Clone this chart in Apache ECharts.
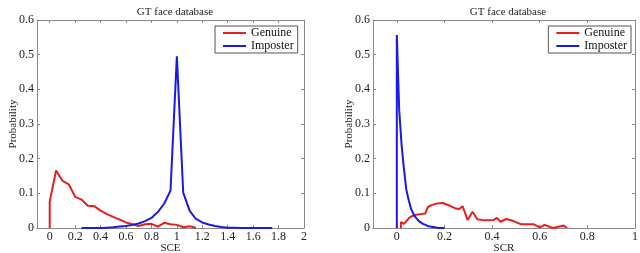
<!DOCTYPE html>
<html>
<head>
<meta charset="utf-8">
<script src="https://cdn.jsdelivr.net/npm/echarts@6/dist/echarts.min.js"></script>
<style>
  html, body { margin: 0; padding: 0; background: #fff; }
  #chart { width: 640px; height: 253px; }
</style>
</head>
<body>
<div id="chart"></div>
<script>
// left plot: SCE
const sceGenuineX = [0, 0, 0.05, 0.1, 0.15, 0.2, 0.25, 0.3, 0.35, 0.4, 0.45, 0.5, 0.55, 0.6, 0.65, 0.7, 0.75, 0.8, 0.85, 0.9, 0.95, 1.0, 1.05, 1.1, 1.15]
const sceGenuineY = [0, 0.076, 0.166, 0.136, 0.126, 0.09, 0.082, 0.064, 0.063, 0.05, 0.04, 0.032, 0.024, 0.016, 0.011, 0.006, 0.011, 0.012, 0.004, 0.015, 0.011, 0.009, 0.002, 0.005, 0.001]
const sceImposterX = [0.25, 0.3, 0.35, 0.4, 0.45, 0.5, 0.55, 0.6, 0.65, 0.7, 0.75, 0.8, 0.85, 0.9, 0.95, 1.0, 1.05, 1.1, 1.15, 1.2, 1.25, 1.3, 1.35, 1.4, 1.45, 1.5, 1.6, 1.7, 1.75]
const sceImposterY = [0, 0, 0, 0, 0.001, 0.002, 0.004, 0.006, 0.009, 0.013, 0.02, 0.029, 0.046, 0.07, 0.108, 0.495, 0.102, 0.05, 0.026, 0.016, 0.01, 0.006, 0.003, 0.001, 0.001, 0, 0, 0, 0]

// right plot: SCR
const scrGenuineX = [0.017, 0.017, 0.03, 0.04, 0.05, 0.06, 0.08, 0.1, 0.12, 0.13, 0.145, 0.17, 0.193, 0.22, 0.248, 0.262, 0.276, 0.297, 0.318, 0.338, 0.37, 0.407, 0.42, 0.435, 0.46, 0.49, 0.52, 0.574, 0.6, 0.62, 0.655, 0.7, 0.715]
const scrGenuineY = [0, 0.017, 0.012, 0.02, 0.028, 0.033, 0.038, 0.04, 0.042, 0.06, 0.066, 0.071, 0.072, 0.065, 0.056, 0.055, 0.063, 0.023, 0.047, 0.025, 0.022, 0.023, 0.029, 0.018, 0.026, 0.02, 0.011, 0.011, 0.002, 0.009, 0, 0.007, 0]
const scrImposterX = [0, 0, 0.01, 0.02, 0.03, 0.04, 0.05, 0.06, 0.07, 0.08, 0.09, 0.1, 0.11, 0.12, 0.13, 0.14, 0.15, 0.16, 0.17, 0.18, 0.2]
const scrImposterY = [0, 0.557, 0.34, 0.24, 0.17, 0.11, 0.08, 0.055, 0.04, 0.03, 0.022, 0.016, 0.012, 0.009, 0.006, 0.004, 0.003, 0.002, 0.001, 0, 0]

const sceTicks = [0, 0.2, 0.4, 0.6, 0.8, 1, 1.2, 1.4, 1.6, 1.8, 2]
const scrTicks = [0, 0.2, 0.4, 0.6, 0.8, 1]

const font = 'Liberation Serif'
const axisGray = '#8a8a8a'
const red = '#ec1c1c'
const blue = '#1a1ae6'

function pairs(xs, ys) {
  return xs.map((x, i) => [x, ys[i]])
}

function xAx(gridIndex, max, ticks, name, top) {
  return {
    type: 'value', gridIndex, min: -0.1, max,
    position: top ? 'top' : 'bottom',
    name: top ? '' : name, nameLocation: 'middle', nameGap: 15, nameMoveOverlap: false,
    nameTextStyle: { fontFamily: font, fontSize: 11, color: '#222' },
    splitLine: { show: false },
    axisLine: { show: true, onZero: false, lineStyle: { color: axisGray, width: 1 } },
    axisTick: { show: true, inside: true, length: 3, customValues: ticks, lineStyle: { color: axisGray } },
    axisLabel: { show: !top, customValues: ticks, margin: 3, fontFamily: font, fontSize: 12, color: '#222',
      formatter: v => String(+v.toFixed(1)) }
  }
}

function yAx(gridIndex, right) {
  return {
    type: 'value', gridIndex, min: 0, max: 0.6, interval: 0.1,
    position: right ? 'right' : 'left',
    name: right ? '' : 'Probability', nameLocation: 'middle', nameGap: 18, nameMoveOverlap: false,
    nameTextStyle: { fontFamily: font, fontSize: 11, color: '#222' },
    splitLine: { show: false },
    axisLine: { show: true, onZero: false, lineStyle: { color: axisGray, width: 1 } },
    axisTick: { show: true, inside: true, length: 3, lineStyle: { color: axisGray } },
    axisLabel: { show: !right, margin: 3, fontFamily: font, fontSize: 12, color: '#222',
      formatter: v => String(+v.toFixed(1)) }
  }
}

function lineSeries(name, color, xi, yi, data) {
  return {
    name, type: 'line', xAxisIndex: xi, yAxisIndex: yi, data,
    symbol: 'none', smooth: false, animation: false,
    lineStyle: { color, width: 2 }, itemStyle: { color }
  }
}

function legendAt(pos) {
  return Object.assign({
    top: 26, orient: 'vertical',
    data: ['Genuine', 'Imposter'],
    icon: 'rect',
    itemWidth: 23, itemHeight: 2, itemGap: 1,
    padding: [1, 4, 1, 8],
    borderColor: '#555', borderWidth: 1, borderRadius: 0,
    backgroundColor: '#fff',
    textStyle: { fontFamily: font, fontSize: 12, color: '#111' }
  }, pos)
}

const chart = echarts.init(document.getElementById('chart'))

chart.setOption({
  backgroundColor: '#fff',
  animation: false,
  title: [
    { text: 'GT face database', left: 170, top: 2, textAlign: 'center',
      textStyle: { fontFamily: font, fontSize: 11, fontWeight: 'normal', color: '#222' } },
    { text: 'GT face database', left: 503, top: 2, textAlign: 'center',
      textStyle: { fontFamily: font, fontSize: 11, fontWeight: 'normal', color: '#222' } }
  ],
  legend: [legendAt({ left: 215 }), legendAt({ right: 9 })],
  grid: [
    { left: 37, top: 20, width: 267, height: 208, containLabel: false, outerBoundsMode: 'none' },
    { left: 373, top: 20, width: 262, height: 208, containLabel: false, outerBoundsMode: 'none' }
  ],
  xAxis: [
    xAx(0, 2, sceTicks, 'SCE', false),
    xAx(1, 1, scrTicks, 'SCR', false),
    xAx(0, 2, sceTicks, '', true),
    xAx(1, 1, scrTicks, '', true)
  ],
  yAxis: [yAx(0, false), yAx(1, false), yAx(0, true), yAx(1, true)],
  series: [
    lineSeries('Genuine', red, 0, 0, pairs(sceGenuineX, sceGenuineY)),
    lineSeries('Imposter', blue, 0, 0, pairs(sceImposterX, sceImposterY)),
    lineSeries('Genuine', red, 1, 1, pairs(scrGenuineX, scrGenuineY)),
    lineSeries('Imposter', blue, 1, 1, pairs(scrImposterX, scrImposterY))
  ]
})
</script>
</body>
</html>
